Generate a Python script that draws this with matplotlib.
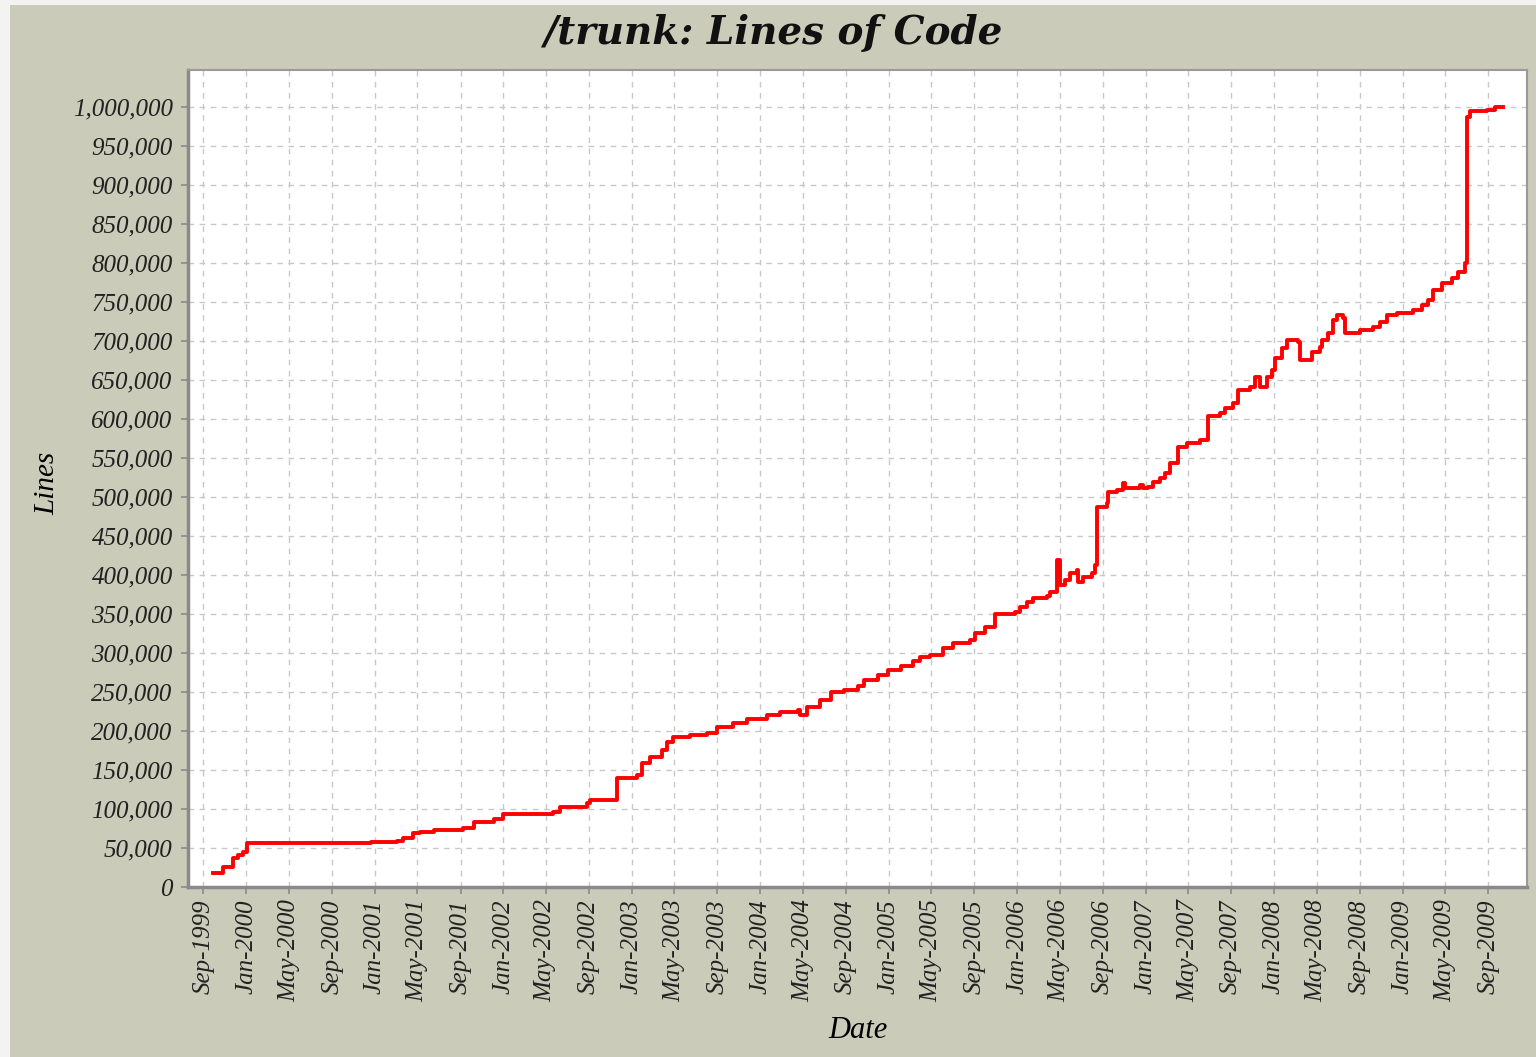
import numpy as np
import pandas as pd
import matplotlib
matplotlib.use('Agg')
import matplotlib.pyplot as plt
import matplotlib.dates as mdates
from matplotlib.patches import Rectangle
from matplotlib.ticker import FuncFormatter, MultipleLocator

# Commit dates and line counts
dates = [
    '1999-09-27', '1999-10-27', '1999-11-08', '1999-11-25', '1999-12-08', '1999-12-22',
    '2000-01-02', '2000-06-01', '2000-12-20', '2001-03-04', '2001-03-22', '2001-04-19',
    '2001-05-10', '2001-06-16', '2001-09-09', '2001-10-08', '2001-12-04', '2001-12-30',
    '2002-05-23', '2002-06-12', '2002-08-27', '2002-09-05', '2002-11-20', '2003-01-16',
    '2003-01-30', '2003-02-22', '2003-03-27', '2003-04-11', '2003-04-28', '2003-06-16',
    '2003-08-03', '2003-09-01', '2003-10-16', '2003-11-25', '2004-01-21', '2004-02-27',
    '2004-04-16', '2004-04-24', '2004-05-14', '2004-06-20', '2004-07-19', '2004-08-25',
    '2004-10-04', '2004-10-21', '2004-11-30', '2004-12-28', '2005-02-03', '2005-03-11',
    '2005-03-31', '2005-04-28', '2005-06-04', '2005-07-02', '2005-08-20', '2005-09-03',
    '2005-10-01', '2005-10-29', '2005-12-26', '2006-01-09', '2006-01-29', '2006-02-15',
    '2006-03-26', '2006-04-03', '2006-04-23', '2006-05-02', '2006-05-16', '2006-05-30',
    '2006-06-19', '2006-06-22', '2006-07-06', '2006-08-01', '2006-08-10', '2006-08-15',
    '2006-09-13', '2006-09-16', '2006-10-11', '2006-10-28', '2006-11-03', '2006-12-16',
    '2006-12-25', '2007-01-08', '2007-01-22', '2007-02-11', '2007-02-25', '2007-03-11',
    '2007-04-03', '2007-04-28', '2007-06-04', '2007-06-27', '2007-07-31', '2007-08-14',
    '2007-09-06', '2007-09-20', '2007-10-24', '2007-11-07', '2007-11-21', '2007-12-11',
    '2007-12-25', '2008-01-04', '2008-01-24', '2008-02-07', '2008-03-09', '2008-03-14',
    '2008-04-18', '2008-05-11', '2008-05-16', '2008-06-03', '2008-06-17', '2008-06-29',
    '2008-07-16', '2008-07-21', '2008-09-02', '2008-10-09', '2008-10-29', '2008-11-18',
    '2008-12-16', '2009-01-31', '2009-02-25', '2009-03-13', '2009-03-28', '2009-04-22',
    '2009-05-21', '2009-06-07', '2009-06-27', '2009-07-02', '2009-07-11', '2009-08-28',
    '2009-09-20', '2009-10-13',
]
lines = [
    18000, 25600, 26000, 37000, 41000, 45000,
    56400, 57000, 58000, 58500, 63000, 69000,
    70000, 73000, 76000, 83000, 87000, 94000,
    96000, 103000, 108000, 112000, 140000, 144000,
    159000, 167000, 176000, 186000, 192000, 195000,
    197000, 205000, 210000, 215000, 220000, 224000,
    227000, 220000, 231000, 240000, 250000, 252000,
    257000, 265000, 272000, 278000, 283000, 289000,
    295000, 297000, 306000, 313000, 317000, 326000,
    333000, 350000, 352000, 359000, 365000, 370000,
    373000, 378000, 419000, 387000, 394000, 402000,
    406000, 391000, 397000, 402000, 413000, 487000,
    492000, 506000, 509000, 518000, 511000, 515000,
    511000, 513000, 519000, 524000, 531000, 543000,
    564000, 569000, 573000, 603000, 608000, 614000,
    620000, 637000, 641000, 653000, 641000, 654000,
    663000, 678000, 691000, 701000, 699000, 676000,
    685000, 692000, 701000, 710000, 727000, 733000,
    729000, 710000, 714000, 718000, 724000, 733000,
    736000, 740000, 746000, 752000, 765000, 774000,
    781000, 788000, 800000, 987000, 994000, 996000,
    999000, 1000000,
]

title = '/trunk: Lines of Code'
xlabel = 'Date'
ylabel = 'Lines'

bg = '#cbcbb9'
serif = ['Liberation Serif', 'DejaVu Serif']

x = pd.to_datetime(dates)

fig = plt.figure(figsize=(15.36, 10.57), dpi=100, facecolor='#f3f3f1')
fig.patches.append(Rectangle((10 / 1536, 0), 1, 1 - 5 / 1057, transform=fig.transFigure,
                             facecolor=bg, edgecolor='none', zorder=-10))

ax = fig.add_axes([188 / 1536, 1 - 887 / 1057, (1527 - 188) / 1536, (887 - 70) / 1057])
ax.set_facecolor('white')
ax.plot(x, lines, color='#ff0000', linewidth=2.8, drawstyle='steps-post', zorder=3)

ax.set_xlim(pd.Timestamp('1999-07-19'), pd.Timestamp('2009-12-20'))
ax.set_ylim(0, 1047000)

ax.xaxis.set_major_locator(mdates.MonthLocator(bymonth=[1, 5, 9]))
ax.xaxis.set_major_formatter(mdates.DateFormatter('%b-%Y'))
ax.yaxis.set_major_locator(MultipleLocator(50000))
ax.yaxis.set_major_formatter(FuncFormatter(lambda v, p: f'{int(v):,}'))

ax.grid(True, color='#c8c8c8', linestyle=(0, (4, 4)), linewidth=1.0)
ax.set_axisbelow(True)

for s in ax.spines.values():
    s.set_color('#9a9a9a')
    s.set_linewidth(1.5)
ax.spines['bottom'].set_linewidth(2.5)
ax.spines['bottom'].set_color('#8a8a8a')
ax.spines['left'].set_linewidth(2.5)
ax.spines['left'].set_color('#8a8a8a')

ax.tick_params(axis='both', color='#8a8a8a', length=5, width=1.2)
ax.tick_params(axis='y', pad=6)
ax.tick_params(axis='x', pad=4)
for lab in ax.get_yticklabels():
    lab.set_family(serif)
    lab.set_style('italic')
    lab.set_fontsize(18)
    lab.set_color('#222222')
for lab in ax.get_xticklabels():
    lab.set_family(serif)
    lab.set_style('italic')
    lab.set_fontsize(18)
    lab.set_rotation(90)
    lab.set_color('#222222')

ax.set_xlabel(xlabel, family=serif, style='italic', fontsize=22, labelpad=10)
ax.set_ylabel(ylabel, family=serif, style='italic', fontsize=21)
ax.yaxis.set_label_coords(-0.0956, 0.494)

fig.text(773 / 1536, 1 - 33 / 1057, title, ha='center', va='center',
         family=['DejaVu Serif'], style='italic', weight='bold', fontsize=28, color='#111111')

fig.savefig('out.png', dpi=100, facecolor=fig.get_facecolor())
